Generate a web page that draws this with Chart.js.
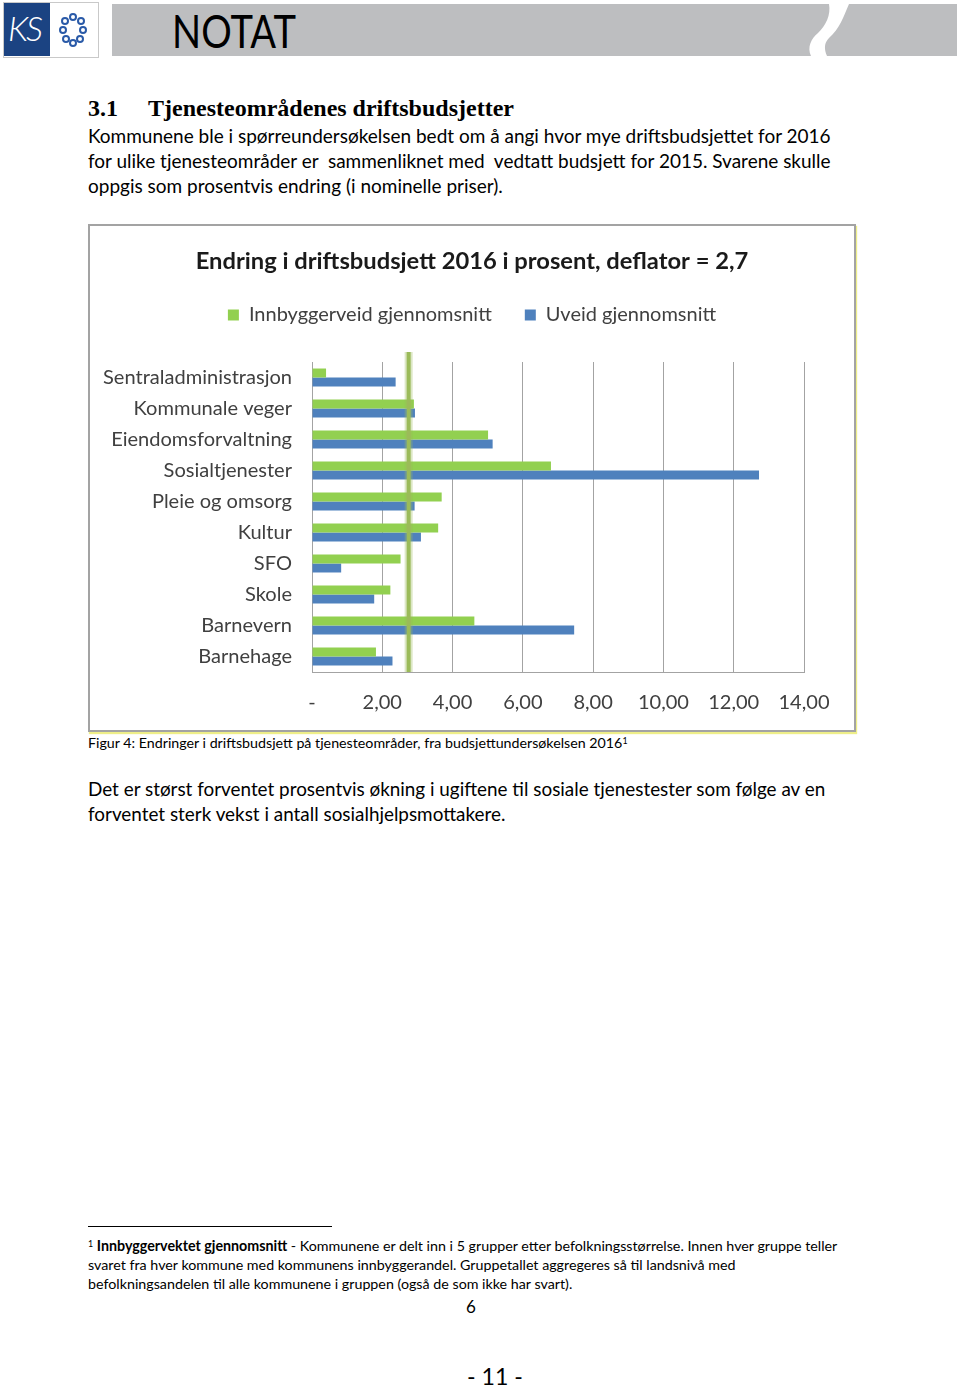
<!DOCTYPE html>
<html>
<head>
<meta charset="utf-8">
<script src="https://cdn.jsdelivr.net/npm/chart.js@4"></script>
<style>
body { margin: 0; width: 960px; height: 1386px; background: #fff; position: relative; overflow: hidden; font-family: Lato, "Noto Sans", sans-serif; color: #000; }
.t { position: absolute; white-space: pre; display: inline-block; }
.body { left: 88px; line-height: 25px; font-size: 19px; }
.foot { left: 88px; line-height: 19px; font-size: 13.5px; }
#chartBox { position: absolute; left: 88px; top: 224px; width: 768px; height: 508px; box-sizing: border-box; border: 2px solid #a3a3a3; box-shadow: 1px 2px 1px #eeee88; }
#myChart { display: block; }
sup { font-size: 0.62em; vertical-align: 0.45em; line-height: 0; }
</style>
</head>
<body>

<!-- header -->
<div style="position:absolute;left:3px;top:2px;width:94px;height:54px;border:1px solid #c9c9c9;background:#fff;"></div>
<div style="position:absolute;left:4px;top:3px;width:46px;height:53px;background:#1b4382;"></div>
<div class="t" style="left:8px;top:8px;font-size:34px;line-height:40px;color:#fff;font-style:italic;font-weight:300;letter-spacing:-2px;">KS</div>
<svg style="position:absolute;left:50px;top:3px" width="47" height="53">
  <g fill="none" stroke="#2a5aa8" stroke-width="2">
    <circle cx="23" cy="14" r="3"/><circle cx="31" cy="18" r="3"/><circle cx="33" cy="27" r="3"/>
    <circle cx="30" cy="36" r="3"/><circle cx="23" cy="40" r="3"/><circle cx="16" cy="36" r="3"/>
    <circle cx="13" cy="27" r="3"/><circle cx="15" cy="18" r="3"/>
  </g>
</svg>
<svg style="position:absolute;left:0;top:0" width="960" height="60">
  <rect x="112" y="4" width="845" height="52" fill="#bdbec0"/>
  <path d="M829 4 L849 4 C843 18 840 28 829 38 C824 43 824 49 827 56 L811 56 C807 47 811 39 818 33 C826 25 831 15 829 4 Z" fill="#fff"/>
</svg>
<div class="t" id="notat" style="left:172px;top:3px;font-size:46px;line-height:56px;transform-origin:0 0;">NOTAT</div>

<!-- heading and text -->
<div class="t" id="h31" style="left:88px;top:94px;font-family:'Liberation Serif',serif;font-weight:bold;font-size:23px;line-height:28px;">3.1</div>
<div class="t" id="htxt" style="left:148px;top:94px;font-family:'Liberation Serif',serif;font-weight:bold;font-size:23px;line-height:28px;">Tjenesteområdenes driftsbudsjetter</div>

<div class="t body p1" id="p1a" style="top:123px">Kommunene ble i spørreundersøkelsen bedt om å angi hvor mye driftsbudsjettet for 2016</div>
<div class="t body p1" style="top:148px">for ulike tjenesteområder er  sammenliknet med  vedtatt budsjett for 2015. Svarene skulle</div>
<div class="t body p1" style="top:173px">oppgis som prosentvis endring (i nominelle priser).</div>

<div id="chartBox"><canvas id="myChart" width="764" height="504"></canvas></div>

<div class="t" id="cap" style="left:88px;top:733px;font-size:13.5px;line-height:20px;">Figur 4: Endringer i driftsbudsjett på tjenesteområder, fra budsjettundersøkelsen 2016<sup>1</sup></div>

<div class="t body p2" id="p2a" style="top:776px">Det er størst forventet prosentvis økning i ugiftene til sosiale tjenestester som følge av en</div>
<div class="t body p2" style="top:801px">forventet sterk vekst i antall sosialhjelpsmottakere.</div>

<div style="position:absolute;left:88px;top:1226px;width:244px;height:1px;background:#000;"></div>
<div class="t foot" id="f1" style="top:1236px"><sup>1</sup> <b>Innbyggervektet gjennomsnitt</b> - Kommunene er delt inn i 5 grupper etter befolkningsstørrelse. Innen hver gruppe teller</div>
<div class="t foot" style="top:1255px">svaret fra hver kommune med kommunens innbyggerandel. Gruppetallet aggregeres så til landsnivå med</div>
<div class="t foot" style="top:1274px">befolkningsandelen til alle kommunene i gruppen (også de som ikke har svart).</div>

<div class="t" style="left:466px;top:1296px;font-size:17px;line-height:22px;">6</div>
<div class="t" id="pnum" style="left:467px;top:1363px;font-size:21px;line-height:26px;">- 11 -</div>

<script>
// chart data
var categories = ['Sentraladministrasjon', 'Kommunale veger', 'Eiendomsforvaltning', 'Sosialtjenester',
    'Pleie og omsorg', 'Kultur', 'SFO', 'Skole', 'Barnevern', 'Barnehage'];
var innbyggerveid = [0.40, 2.90, 5.01, 6.80, 3.69, 3.59, 2.52, 2.23, 4.62, 1.82];
var uveid = [2.38, 2.93, 5.14, 12.72, 2.92, 3.10, 0.83, 1.77, 7.46, 2.29];
var xTicks = [0, 2, 4, 6, 8, 10, 12, 14];
var deflator = 2.75;

// size html text so the line widths match the page
function fitWidth(el, target) {
    var fs = parseFloat(getComputedStyle(el).fontSize);
    var w = el.getBoundingClientRect().width;
    return fs * target / w;
}
function setGroup(sel, fs) {
    document.querySelectorAll(sel).forEach(function (e) { e.style.fontSize = fs + 'px'; });
}
setGroup('.p1', fitWidth(document.getElementById('p1a'), 743));
setGroup('.p2', fitWidth(document.getElementById('p2a'), 738));
var hs = fitWidth(document.getElementById('htxt'), 366);
document.getElementById('htxt').style.fontSize = hs + 'px';
document.getElementById('h31').style.fontSize = hs + 'px';
setGroup('.foot', fitWidth(document.getElementById('f1'), 750));
document.getElementById('cap').style.fontSize = fitWidth(document.getElementById('cap'), 540) + 'px';
document.getElementById('pnum').style.fontSize = fitWidth(document.getElementById('pnum'), 56) + 'px';
var notat = document.getElementById('notat');
notat.style.transform = 'scaleX(' + (124 / notat.getBoundingClientRect().width) + ')';

// chart font sizes from measured widths
var mc = document.createElement('canvas').getContext('2d');
function fitFont(text, width, weight) {
    mc.font = weight + ' 100px Lato';
    return 100 * width / mc.measureText(text).width;
}
var labelSize = fitFont('Sentraladministrasjon', 189, 'normal');
var legendSize = fitFont('Innbyggerveid gjennomsnitt', 243, 'normal');
var titleSize = fitFont('Endring i driftsbudsjett 2016 i prosent, deflator = 2,7', 553, 'bold');

var legendPad = 33;
var titleLine = titleSize * 1.2;
var titleTop = 35 - titleLine / 2;
var titleBottom = (89 - legendSize / 2 - legendPad) - titleTop - titleLine;

var legendGap = {
    id: 'legendGap',
    beforeInit: function (chart) {
        var orig = chart.legend.fit;
        chart.legend.fit = function () {
            orig.bind(chart.legend)();
            this.height = 136 - (89 - legendSize / 2 - legendPad);
        };
    }
};

var deflatorLine = {
    id: 'deflatorLine',
    afterDatasetsDraw: function (chart) {
        var ctx = chart.ctx;
        var x = chart.scales.x.getPixelForValue(deflator);
        ctx.save();
        ctx.strokeStyle = 'rgba(155, 187, 89, 0.35)';
        ctx.lineWidth = 8;
        ctx.beginPath();
        ctx.moveTo(x, chart.chartArea.top - 10);
        ctx.lineTo(x, chart.chartArea.bottom);
        ctx.stroke();
        ctx.strokeStyle = '#9bbb59';
        ctx.lineWidth = 4;
        ctx.beginPath();
        ctx.moveTo(x, chart.chartArea.top - 10);
        ctx.lineTo(x, chart.chartArea.bottom);
        ctx.stroke();
        ctx.restore();
    }
};

var ctx = document.getElementById('myChart').getContext('2d');
var myChart = new Chart(ctx, {
    type: 'bar',
    data: {
        labels: categories,
        datasets: [{
            label: 'Innbyggerveid gjennomsnitt',
            data: innbyggerveid,
            backgroundColor: '#92d050'
        },
        {
            label: 'Uveid gjennomsnitt',
            data: uveid,
            backgroundColor: '#4f81bd'
        }]
    },
    options: {
        indexAxis: 'y',
        responsive: false,
        animation: false,
        datasets: {
            bar: { categoryPercentage: 0.58, barPercentage: 1 }
        },
        layout: {
            padding: { left: 0, right: 0, top: 0, bottom: 15 }
        },
        plugins: {
            title: {
                display: true,
                text: 'Endring i driftsbudsjett 2016 i prosent, deflator = 2,7',
                color: '#1a1a1a',
                font: { family: 'Lato', size: titleSize, weight: 'bold', lineHeight: 1.2 },
                padding: { top: titleTop, bottom: titleBottom }
            },
            legend: {
                labels: {
                    boxWidth: 11,
                    boxHeight: 11,
                    padding: legendPad,
                    color: '#404040',
                    font: { family: 'Lato', size: legendSize }
                }
            },
            tooltip: { enabled: false }
        },
        scales: {
            x: {
                min: 0,
                max: 14,
                afterBuildTicks: function (scale) {
                    scale.ticks = xTicks.map(function (v) { return { value: v }; });
                },
                afterFit: function (scale) {
                    scale.height = 43;
                    scale.paddingRight = 50;
                },
                ticks: {
                    padding: 19,
                    color: '#404040',
                    font: { family: 'Lato', size: labelSize, lineHeight: 1.2 },
                    callback: function (v) { return v === 0 ? '-' : v.toFixed(2).replace('.', ','); }
                },
                grid: { color: '#a3a3a3', drawTicks: false },
                border: { color: '#a3a3a3' }
            },
            y: {
                afterFit: function (scale) { scale.width = 222; },
                ticks: {
                    padding: 20,
                    color: '#404040',
                    font: { family: 'Lato', size: labelSize }
                },
                grid: { display: false, drawTicks: false },
                border: { display: true, color: '#a3a3a3' }
            }
        }
    },
    plugins: [legendGap, deflatorLine]
});
</script>
</body>
</html>
